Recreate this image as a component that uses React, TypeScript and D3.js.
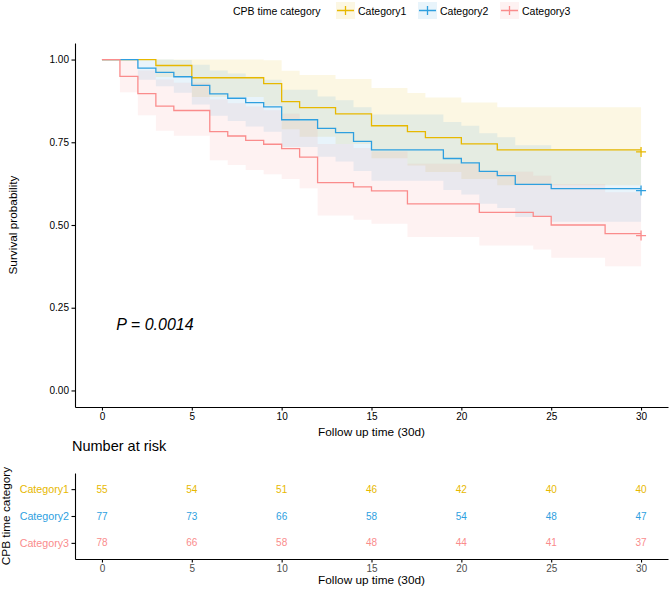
import React, { useEffect, useRef } from 'react';
import * as d3 from 'd3';

const groups = ['Category1', 'Category2', 'Category3'];
const colors = ['#E7B800', '#2E9FDF', '#FA8C8C'];

// Kaplan-Meier steps: time of each drop, survival after it, and the 95% band
const cat1Time = [0, 3, 5, 9, 10, 11, 13, 15, 17, 18, 20, 22];
const cat1Surv = [1, 0.982, 0.945, 0.927, 0.873, 0.855, 0.836, 0.8, 0.782, 0.764, 0.745, 0.727];
const cat1Lower = [1, 0.947, 0.887, 0.861, 0.789, 0.767, 0.745, 0.702, 0.68, 0.66, 0.639, 0.62];
const cat1Upper = [1, 1, 1, 0.998, 0.966, 0.953, 0.941, 0.914, 0.899, 0.885, 0.87, 0.856];

const cat2Time = [0, 2, 3, 4, 5, 6, 7, 8, 9, 10, 12, 13, 14, 15, 19, 20, 21, 22, 23, 25];
const cat2Surv = [1, 0.974, 0.961, 0.948, 0.922, 0.896, 0.883, 0.87, 0.857, 0.818, 0.792, 0.779, 0.753, 0.727, 0.701, 0.688, 0.662, 0.649, 0.623, 0.61];
const cat2Lower = [1, 0.939, 0.919, 0.9, 0.864, 0.83, 0.814, 0.798, 0.782, 0.736, 0.706, 0.692, 0.663, 0.634, 0.606, 0.592, 0.564, 0.551, 0.524, 0.51];
const cat2Upper = [1, 1, 1, 0.999, 0.984, 0.967, 0.958, 0.948, 0.939, 0.909, 0.888, 0.877, 0.856, 0.834, 0.811, 0.8, 0.777, 0.765, 0.741, 0.729];

const cat3Time = [0, 1, 2, 3, 4, 6, 7, 8, 9, 10, 11, 12, 14, 15, 17, 21, 24, 25, 28];
const cat3Surv = [1, 0.949, 0.897, 0.859, 0.846, 0.782, 0.769, 0.756, 0.744, 0.731, 0.705, 0.628, 0.615, 0.603, 0.564, 0.538, 0.526, 0.5, 0.474];
const cat3Lower = [1, 0.901, 0.832, 0.785, 0.77, 0.696, 0.681, 0.666, 0.653, 0.639, 0.611, 0.529, 0.516, 0.504, 0.464, 0.438, 0.426, 0.401, 0.375];
const cat3Upper = [1, 0.999, 0.967, 0.94, 0.93, 0.879, 0.868, 0.858, 0.847, 0.836, 0.814, 0.745, 0.733, 0.722, 0.685, 0.661, 0.649, 0.624, 0.599];

const endTime = 30;
const xTicks = [0, 5, 10, 15, 20, 25, 30];
const yTicks = [0, 0.25, 0.5, 0.75, 1];

// number at risk at each x tick
const cat1Risk = [55, 54, 51, 46, 42, 40, 40];
const cat2Risk = [77, 73, 66, 58, 54, 48, 47];
const cat3Risk = [78, 66, 58, 48, 44, 41, 37];

const pValue = 'P = 0.0014';

const FONT = "'Liberation Sans', Arial, Helvetica, sans-serif";

const App: React.FC = () => {
  const svgRef = useRef<SVGSVGElement>(null);

  useEffect(() => {
    if (!svgRef.current) return;
    const svg = d3.select(svgRef.current);
    svg.selectAll('*').remove();

    const curves = [
      { time: cat1Time, surv: cat1Surv, lower: cat1Lower, upper: cat1Upper, risk: cat1Risk },
      { time: cat2Time, surv: cat2Surv, lower: cat2Lower, upper: cat2Upper, risk: cat2Risk },
      { time: cat3Time, surv: cat3Surv, lower: cat3Lower, upper: cat3Upper, risk: cat3Risk },
    ].map((c, i) => {
      const pts = c.time.map((t, j) => ({ t, s: c.surv[j], lo: c.lower[j], hi: c.upper[j] }));
      const last = pts[pts.length - 1];
      pts.push({ ...last, t: endTime });
      return { ...c, pts, color: colors[i], name: groups[i] };
    });

    const x = d3.scaleLinear().domain([-1.5, 31.5]).range([75, 668]);
    const y = d3.scaleLinear().domain([-0.05, 1.05]).range([407, 43]);

    // confidence bands
    const area = d3.area<any>()
      .curve(d3.curveStepAfter)
      .x(d => x(d.t))
      .y0(d => y(d.lo))
      .y1(d => y(d.hi));

    svg.append('g').selectAll('path')
      .data(curves)
      .join('path')
      .attr('d', d => area(d.pts) || '')
      .attr('fill', d => d.color)
      .attr('fill-opacity', 0.11);

    const line = d3.line<any>()
      .curve(d3.curveStepAfter)
      .x(d => x(d.t))
      .y(d => y(d.s));

    svg.append('g').selectAll('path')
      .data(curves)
      .join('path')
      .attr('d', d => line(d.pts) || '')
      .attr('fill', 'none')
      .attr('stroke', d => d.color)
      .attr('stroke-width', 1.3);

    // censor marks at end of follow up
    const cens = svg.append('g');
    curves.forEach(c => {
      const cx = x(endTime);
      const cy = y(c.pts[c.pts.length - 1].s) + 2;
      cens.append('path')
        .attr('d', `M${cx - 5},${cy}H${cx + 5}M${cx},${cy - 5}V${cy + 5}`)
        .attr('stroke', c.color)
        .attr('stroke-width', 1.3);
    });

    const styleAxis = (g: any, labelColor: string) => {
      g.select('.domain').attr('stroke', '#000').attr('stroke-width', 1.1);
      g.selectAll('.tick line').attr('stroke', '#000').attr('stroke-width', 1.1);
      g.selectAll('.tick text')
        .attr('fill', labelColor)
        .style('font-family', FONT)
        .style('font-size', '10px');
    };

    // main axes
    const xAxis = svg.append('g')
      .attr('transform', 'translate(0,407)')
      .call(d3.axisBottom(x).tickValues(xTicks).tickSize(3.5).tickPadding(2.5).tickSizeOuter(0));
    styleAxis(xAxis, '#000');

    const yAxis = svg.append('g')
      .attr('transform', 'translate(75,0)')
      .call(d3.axisLeft(y).tickValues(yTicks).tickFormat(d3.format('.2f')).tickSize(3.5).tickPadding(2.5).tickSizeOuter(0));
    styleAxis(yAxis, '#000');

    svg.append('text')
      .attr('x', 371.5)
      .attr('y', 436)
      .attr('text-anchor', 'middle')
      .style('font-family', FONT)
      .style('font-size', '11.8px')
      .text('Follow up time (30d)');

    svg.append('text')
      .attr('transform', `translate(17,${(43 + 407) / 2}) rotate(-90)`)
      .attr('text-anchor', 'middle')
      .style('font-family', FONT)
      .style('font-size', '11.8px')
      .text('Survival probability');

    // p value
    svg.append('text')
      .attr('x', x(0.8))
      .attr('y', y(0.2) + 5.5)
      .style('font-family', FONT)
      .style('font-size', '16px')
      .style('font-style', 'italic')
      .text(pValue);

    // legend
    const legend = svg.append('g').style('font-family', FONT).style('font-size', '10.5px');
    legend.append('text').attr('x', 233).attr('y', 14.5).text('CPB time category');
    const keyX = [336, 418, 500];
    curves.forEach((c, i) => {
      const kx = keyX[i];
      legend.append('rect')
        .attr('x', kx).attr('y', 2).attr('width', 19).attr('height', 17)
        .attr('fill', c.color).attr('fill-opacity', 0.11);
      legend.append('path')
        .attr('d', `M${kx + 1},10.5H${kx + 18}M${kx + 9.5},6V15`)
        .attr('stroke', c.color).attr('stroke-width', 1.3);
      legend.append('text').attr('x', kx + 22).attr('y', 14.5).text(c.name);
    });

    // risk table
    svg.append('text')
      .attr('x', 72)
      .attr('y', 451)
      .style('font-family', FONT)
      .style('font-size', '14.5px')
      .text('Number at risk');

    const ty = d3.scalePoint<string>().domain(groups).range([473, 559]).padding(0.6);

    const tx = svg.append('g')
      .attr('transform', 'translate(0,559)')
      .call(d3.axisBottom(x).tickValues(xTicks).tickSize(3.5).tickPadding(2).tickSizeOuter(0));
    styleAxis(tx, '#4D4D4D');

    const tyAxis = svg.append('g')
      .attr('transform', 'translate(75,0)')
      .call(d3.axisLeft(ty).tickSize(3.5).tickPadding(2.5).tickSizeOuter(0));
    styleAxis(tyAxis, '#000');
    tyAxis.selectAll('.tick text')
      .attr('fill', (d: any) => colors[groups.indexOf(d)])
      .style('font-size', '10.7px');

    curves.forEach(c => {
      svg.append('g').selectAll('text')
        .data(c.risk)
        .join('text')
        .attr('x', (_, j) => x(xTicks[j]))
        .attr('y', ty(c.name)! + 3.6)
        .attr('text-anchor', 'middle')
        .attr('fill', c.color)
        .style('font-family', FONT)
        .style('font-size', '10px')
        .text(d => d);
    });

    svg.append('text')
      .attr('x', 371.5)
      .attr('y', 584)
      .attr('text-anchor', 'middle')
      .style('font-family', FONT)
      .style('font-size', '11.8px')
      .text('Follow up time (30d)');

    svg.append('text')
      .attr('transform', `translate(10,516) rotate(-90)`)
      .attr('text-anchor', 'middle')
      .style('font-family', FONT)
      .style('font-size', '11.8px')
      .text('CPB time category');
  }, []);

  return (
    <div style={{ position: 'absolute', left: 0, top: 0 }}>
      <svg ref={svgRef} width={669} height={590} style={{ display: 'block', background: '#fff' }} />
    </div>
  );
};

export default App;
